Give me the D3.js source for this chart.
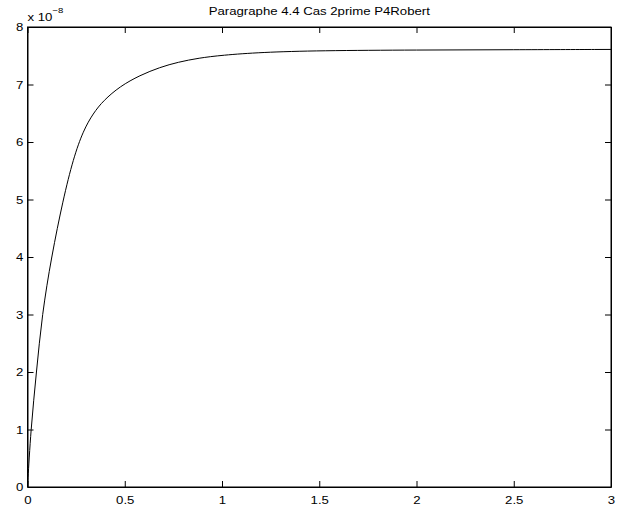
<!DOCTYPE html>
<html>
<head>
<meta charset="utf-8">
<script src="https://cdn.jsdelivr.net/npm/d3@7"></script>
<style>
  body { margin: 0; background: #fff; }
  text { font-family: "Liberation Sans", Arial, sans-serif; fill: #000; }
</style>
</head>
<body>
<div id="chart"></div>
<script>
// data (y in units of 1e-8)
var tVals = [0, 0.017, 0.046, 0.075, 0.123, 0.183, 0.236, 0.287, 0.338, 0.39, 0.476, 0.578, 0.681, 0.775, 0.88, 1.0, 1.2, 1.5, 2.0, 2.5, 3.0];
var yVals = [0, 1, 2, 3, 4, 5, 5.72, 6.2, 6.5, 6.72, 6.97, 7.16, 7.30, 7.39, 7.46, 7.51, 7.56, 7.59, 7.60, 7.605, 7.61];
var xTicks = [0, 0.5, 1, 1.5, 2, 2.5, 3];
var yTicks = [0, 1, 2, 3, 4, 5, 6, 7, 8];
var title = "Paragraphe 4.4 Cas 2prime P4Robert";

var W = 626, H = 506;
var margin = {top: 27, right: 15, bottom: 19, left: 27.5},
    width = W - margin.left - margin.right,
    height = H - margin.top - margin.bottom;

// the reference glyphs are a bit wider than Arial
var stretch = "scale(1.2,1)";

var svg = d3.select("#chart")
  .append("svg")
    .attr("width", W)
    .attr("height", H)
  .append("g")
    .attr("transform", "translate(" + margin.left + "," + margin.top + ")");

var x = d3.scaleLinear().domain([0, 3]).range([0, width]);
var y = d3.scaleLinear().domain([0, 8]).range([height, 0]);

var fmt = function(d) { return d3.format("~g")(d); };

// bottom & top axes (ticks inward)
svg.append("g")
  .attr("transform", "translate(0," + height + ")")
  .call(d3.axisBottom(x).tickValues(xTicks).tickFormat(fmt).tickSizeInner(-6).tickSizeOuter(0).tickPadding(9.5));
svg.append("g")
  .call(d3.axisTop(x).tickValues(xTicks).tickFormat("").tickSizeInner(-6).tickSizeOuter(0));

// left & right axes
svg.append("g")
  .call(d3.axisLeft(y).tickValues(yTicks).tickFormat(fmt).tickSizeInner(-6).tickSizeOuter(0).tickPadding(3.5));
svg.append("g")
  .attr("transform", "translate(" + width + ",0)")
  .call(d3.axisRight(y).tickValues(yTicks).tickFormat("").tickSizeInner(-6).tickSizeOuter(0));

svg.selectAll(".tick text")
  .style("font-size", "11px")
  .style("font-family", "Liberation Sans, Arial, sans-serif")
  .attr("transform", stretch);
svg.selectAll(".domain, .tick line").attr("stroke", "#000").attr("stroke-width", 1);

// box
svg.append("rect")
  .attr("width", width).attr("height", height)
  .attr("fill", "none").attr("stroke", "#000").attr("stroke-width", 1);

// curve
var pts = tVals.map(function(t, i) { return [t, yVals[i]]; });
var line = d3.line()
  .x(function(d) { return x(d[0]); })
  .y(function(d) { return y(d[1]); })
  .curve(d3.curveBasis);
svg.append("path")
  .datum(pts)
  .attr("d", line)
  .attr("fill", "none")
  .attr("stroke", "#000")
  .attr("stroke-width", 1);

// title
svg.append("g")
  .attr("transform", "translate(" + (width / 2) + ",-12)")
  .append("text")
    .attr("text-anchor", "middle")
    .attr("transform", stretch)
    .style("font-size", "11px")
    .text(title);

// exponent label
var ex = svg.append("g")
  .attr("transform", "translate(0,-6.3)")
  .append("text")
    .attr("transform", stretch)
    .style("font-size", "11px");
ex.append("tspan").text("x 10");
ex.append("tspan").attr("dy", -7.4).style("font-size", "8px").text("\u22128");
</script>
</body>
</html>
